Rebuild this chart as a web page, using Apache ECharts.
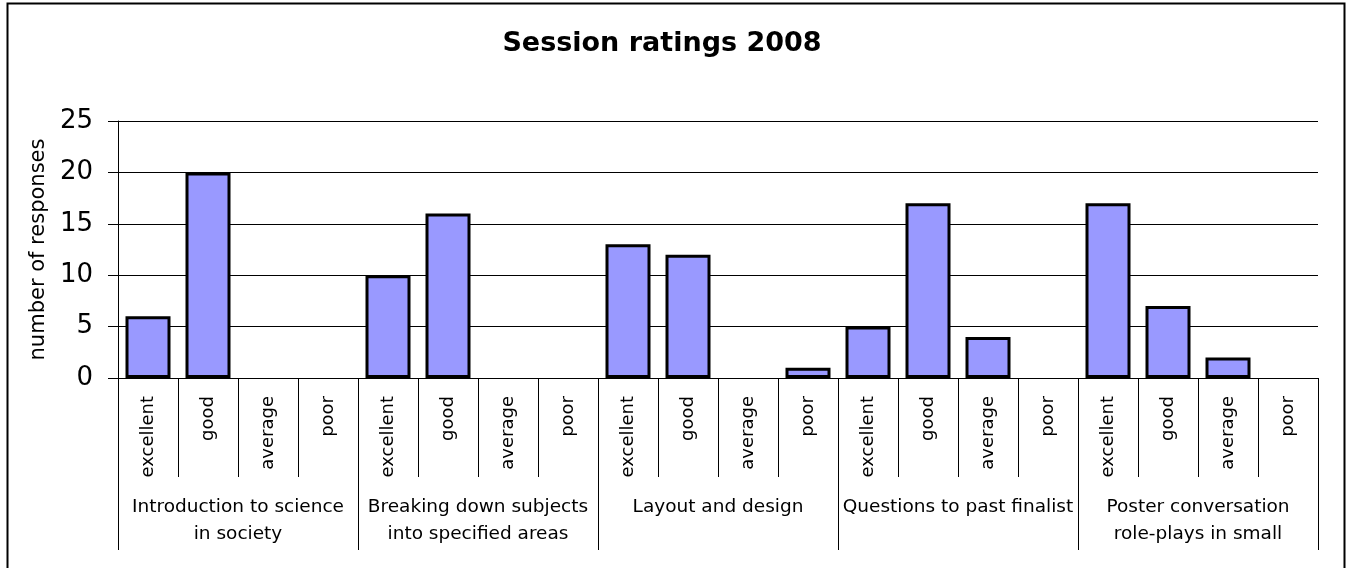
<!DOCTYPE html>
<html>
<head>
<meta charset="utf-8">
<script src="https://cdn.jsdelivr.net/npm/echarts@6/dist/echarts.min.js"></script>
<style>
  html, body { margin: 0; padding: 0; background: #fff; }
  #chart { width: 1347px; height: 568px; }
</style>
</head>
<body>
<div id="chart"></div>
<script>
// ratings per session, in the order shown
const ratings = ['excellent', 'good', 'average', 'poor']
const sessions = [
    'Introduction to science\nin society',
    'Breaking down subjects\ninto specified areas',
    'Layout and design',
    'Questions to past finalist',
    'Poster conversation\nrole-plays in small'
]
const responses = [
    6, 20, 0, 0,
    10, 16, 0, 0,
    13, 12, 0, 1,
    5, 17, 4, 0,
    17, 7, 2, 0
]
const yTicks = [0, 5, 10, 15, 20, 25]

const font = 'DejaVu Sans'
const categories = sessions.reduce((prv, s) => [...prv, ...ratings], [])

const chart = echarts.init(document.getElementById('chart'))
chart.setOption({
    animation: false,
    textStyle: { fontFamily: font },
    title: {
        text: 'Session ratings 2008',
        left: 657,
        top: 25,
        textAlign: 'center',
        textStyle: { fontFamily: font, fontSize: 27, fontWeight: 'bold', color: '#000' }
    },
    graphic: [{
        type: 'rect',
        shape: { x: 7.5, y: 3.5, width: 1337, height: 580 },
        style: { fill: 'none', stroke: '#000', lineWidth: 2 },
        silent: true
    }],
    grid: { left: 118, right: 29, top: 121, bottom: 190 },
    xAxis: [
        {
            type: 'category',
            data: categories,
            axisLine: { lineStyle: { color: '#000', width: 1 } },
            axisTick: { show: true, interval: 0, length: 99, lineStyle: { color: '#000' } },
            axisLabel: { interval: 0, rotate: 90, margin: 18, fontSize: 18, color: '#000', fontFamily: font }
        },
        {
            type: 'category',
            data: sessions,
            position: 'bottom',
            axisLine: { show: false },
            axisTick: { show: true, interval: 0, length: 172, lineStyle: { color: '#000' } },
            axisLabel: { interval: 0, margin: 116, fontSize: 18.5, lineHeight: 27, color: '#000', fontFamily: font }
        }
    ],
    yAxis: {
        type: 'value',
        min: yTicks[0],
        max: yTicks[yTicks.length - 1],
        interval: 5,
        name: 'number of responses',
        nameLocation: 'middle',
        nameRotate: 90,
        nameGap: 66,
        nameTextStyle: { fontSize: 21, color: '#000', fontFamily: font },
        axisLine: { show: true, lineStyle: { color: '#000' } },
        axisTick: { show: true, length: 10, lineStyle: { color: '#000' } },
        axisLabel: { margin: 25, fontSize: 26, color: '#000', fontFamily: font },
        splitLine: { lineStyle: { color: '#000', width: 1 } }
    },
    series: [{
        type: 'bar',
        xAxisIndex: 0,
        // zero counts draw no bar at all in the original
        data: responses.map(v => (v === 0 ? null : v)),
        barWidth: 45,
        itemStyle: { color: '#9999FF', borderColor: '#000', borderWidth: 3 }
    }]
})
</script>
</body>
</html>
